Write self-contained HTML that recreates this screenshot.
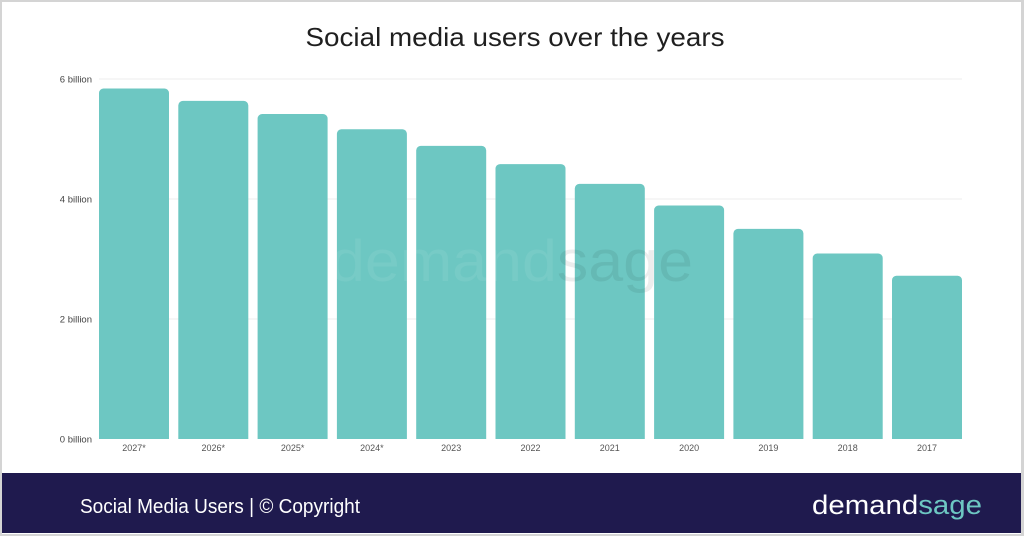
<!DOCTYPE html>
<html><head><meta charset="utf-8"><style>
html,body{margin:0;padding:0;background:#fff;}
svg{display:block;}
text{font-family:"Liberation Sans",sans-serif;}
</style></head><body>
<svg width="1024" height="536" viewBox="0 0 1024 536" xmlns="http://www.w3.org/2000/svg">
<rect x="0" y="0" width="1024" height="536" fill="#d4d4d4"/>
<rect x="2" y="2" width="1019" height="532" fill="#ffffff"/>
<text x="515" y="46" font-size="26" fill="#1f1f1f" text-anchor="middle" textLength="419" lengthAdjust="spacingAndGlyphs">Social media users over the years</text>
<g stroke="#f1f1f1" stroke-width="1.2">
<line x1="99" y1="79" x2="962" y2="79"/>
<line x1="99" y1="199" x2="962" y2="199"/>
<line x1="99" y1="319" x2="962" y2="319"/>
</g>
<g font-size="9.5" fill="#444" text-anchor="end">
<text x="92" y="82.5">6 billion</text>
<text x="92" y="202.5">4 billion</text>
<text x="92" y="322.5">2 billion</text>
<text x="92" y="442.5">0 billion</text>
</g>
<g fill="#6dc7c2">
<path d="M99,439 V93 a4.5,4.5 0 0 1 4.5,-4.5 H164.5 a4.5,4.5 0 0 1 4.5,4.5 V439 Z"/>
<path d="M178.3,439 V105.4 a4.5,4.5 0 0 1 4.5,-4.5 H243.8 a4.5,4.5 0 0 1 4.5,4.5 V439 Z"/>
<path d="M257.6,439 V118.5 a4.5,4.5 0 0 1 4.5,-4.5 H323.1 a4.5,4.5 0 0 1 4.5,4.5 V439 Z"/>
<path d="M336.9,439 V133.8 a4.5,4.5 0 0 1 4.5,-4.5 H402.4 a4.5,4.5 0 0 1 4.5,4.5 V439 Z"/>
<path d="M416.2,439 V150.4 a4.5,4.5 0 0 1 4.5,-4.5 H481.7 a4.5,4.5 0 0 1 4.5,4.5 V439 Z"/>
<path d="M495.5,439 V168.6 a4.5,4.5 0 0 1 4.5,-4.5 H561 a4.5,4.5 0 0 1 4.5,4.5 V439 Z"/>
<path d="M574.8,439 V188.4 a4.5,4.5 0 0 1 4.5,-4.5 H640.3 a4.5,4.5 0 0 1 4.5,4.5 V439 Z"/>
<path d="M654.1,439 V210 a4.5,4.5 0 0 1 4.5,-4.5 H719.6 a4.5,4.5 0 0 1 4.5,4.5 V439 Z"/>
<path d="M733.4,439 V233.4 a4.5,4.5 0 0 1 4.5,-4.5 H798.9 a4.5,4.5 0 0 1 4.5,4.5 V439 Z"/>
<path d="M812.7,439 V258 a4.5,4.5 0 0 1 4.5,-4.5 H878.2 a4.5,4.5 0 0 1 4.5,4.5 V439 Z"/>
<path d="M892,439 V280.2 a4.5,4.5 0 0 1 4.5,-4.5 H957.5 a4.5,4.5 0 0 1 4.5,4.5 V439 Z"/>
</g>
<text x="330" y="281" font-size="58" textLength="363" lengthAdjust="spacingAndGlyphs"><tspan fill="#ffffff" fill-opacity="0.07">demand</tspan><tspan fill="#000000" fill-opacity="0.07">sage</tspan></text>
<g font-size="9" fill="#555" text-anchor="middle">
<text x="134" y="451">2027*</text>
<text x="213.3" y="451">2026*</text>
<text x="292.6" y="451">2025*</text>
<text x="371.9" y="451">2024*</text>
<text x="451.2" y="451">2023</text>
<text x="530.5" y="451">2022</text>
<text x="609.8" y="451">2021</text>
<text x="689.1" y="451">2020</text>
<text x="768.4" y="451">2019</text>
<text x="847.7" y="451">2018</text>
<text x="927" y="451">2017</text>
</g>
<rect x="2" y="473" width="1019" height="60" fill="#1f1a4e"/>
<text x="80" y="513" font-size="20" fill="#ffffff" textLength="280" lengthAdjust="spacingAndGlyphs">Social Media Users | © Copyright</text>
<text x="812" y="514" font-size="27" textLength="170" lengthAdjust="spacingAndGlyphs"><tspan fill="#ffffff">demand</tspan><tspan fill="#6dc7c2">sage</tspan></text>
</svg>
</body></html>
